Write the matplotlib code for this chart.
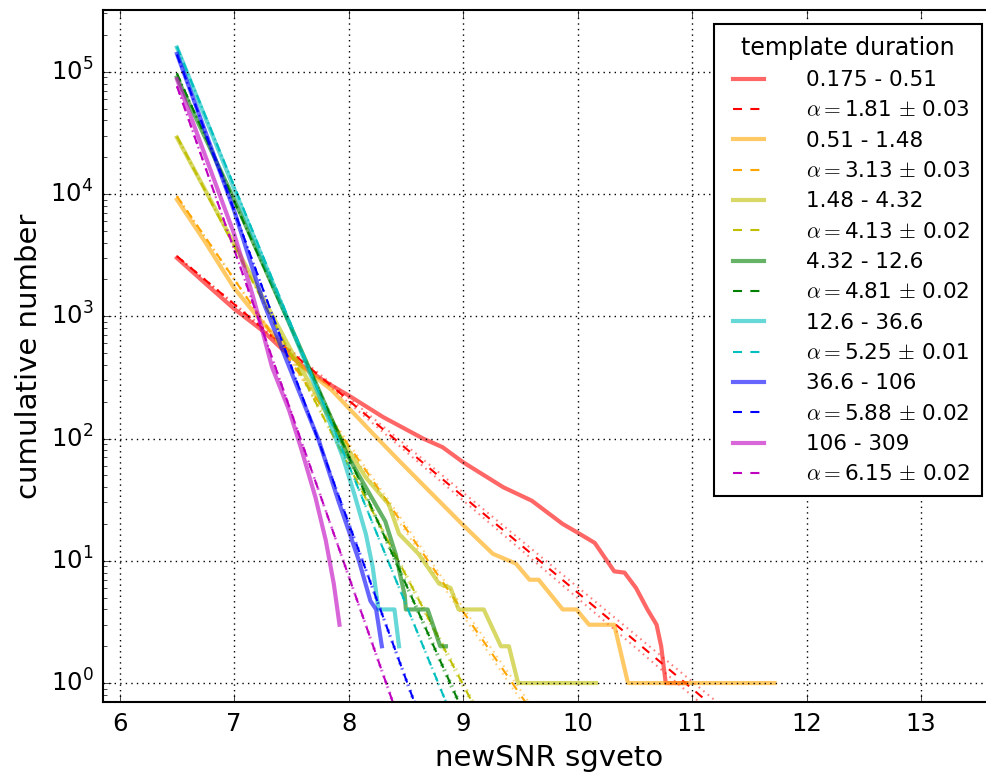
import numpy as np
import matplotlib
matplotlib.use("Agg")
import matplotlib.pyplot as plt

plt.style.use("classic")
plt.rcParams["font.family"] = ["DejaVu Sans"]
plt.rcParams["mathtext.fontset"] = "cm"
plt.rcParams["lines.scale_dashes"] = False

# ---- data ----
bins = ["0.175 - 0.51", "0.51 - 1.48", "1.48 - 4.32", "4.32 - 12.6",
        "12.6 - 36.6", "36.6 - 106", "106 - 309"]
colors = ["r", "orange", "y", "g", "c", "b", "m"]
alpha_fit = [1.81, 3.13, 4.13, 4.81, 5.25, 5.88, 6.15]
alpha_err = [0.03, 0.03, 0.02, 0.02, 0.01, 0.02, 0.02]
fit_norm = [3100, 9600, 29500, 97000, 160000, 138000, 76000]
fit_x0 = 6.5

snr_red = [6.5, 6.75, 7.0, 7.25, 7.4, 7.6, 7.8, 8.0, 8.3, 8.65, 8.82, 9.0, 9.35,
           9.6, 9.87, 10.0, 10.15, 10.32, 10.41, 10.51, 10.61, 10.69, 10.73, 10.77, 10.95]
num_red = [3000, 1850, 1150, 760, 560, 390, 290, 225, 150, 100, 85, 64, 40,
           31, 20, 17, 14, 8.2, 8, 6, 4, 3, 2, 1, 1]

snr_orange = [6.5, 6.75, 7.0, 7.2, 7.4, 7.56, 7.85, 8.24, 8.44, 8.67, 8.99, 9.26,
              9.46, 9.58, 9.66, 9.87, 9.99, 10.10, 10.32, 10.44, 11.72]
num_orange = [9000, 4000, 1700, 1000, 620, 410, 250, 103, 66, 40, 20, 11.4,
              9.5, 7, 7, 4, 4, 3, 3, 1, 1]

snr_yellow = [6.5, 7.0, 7.5, 7.75, 8.0, 8.15, 8.35, 8.44, 8.61, 8.79, 8.89, 8.96,
              9.18, 9.33, 9.40, 9.48, 10.16]
num_yellow = [29000, 3900, 520, 200, 80, 48, 29, 16.6, 11.4, 6.5, 6, 4,
              4, 2, 2, 1, 1]

snr_green = [6.5, 7.0, 7.5, 8.0, 8.2, 8.32, 8.41, 8.49, 8.50, 8.69, 8.80, 8.85]
num_green = [90000, 9000, 800, 70, 33, 21, 11.4, 5.2, 4, 4, 2, 2]

snr_cyan = [6.5, 7.0, 7.5, 7.8, 7.95, 8.05, 8.15, 8.21, 8.26, 8.40, 8.44]
num_cyan = [158000, 11000, 800, 165, 70, 35, 16.6, 8.9, 4, 4, 2]

snr_blue = [6.5, 7.0, 7.25, 7.54, 7.74, 7.91, 8.0, 8.09, 8.19, 8.24, 8.29]
num_blue = [140000, 7300, 1340, 280, 96, 31, 17.7, 10, 4.7, 4, 2]

snr_magenta = [6.5, 7.0, 7.16, 7.24, 7.33, 7.48, 7.59, 7.71, 7.80, 7.87, 7.92]
num_magenta = [87000, 4700, 1500, 800, 385, 170, 80, 33, 14.7, 6.5, 3]

snr_all = [snr_red, snr_orange, snr_yellow, snr_green, snr_cyan, snr_blue, snr_magenta]
num_all = [num_red, num_orange, num_yellow, num_green, num_cyan, num_blue, num_magenta]

x_ticks = [6, 7, 8, 9, 10, 11, 12, 13]

# ---- figure ----
W, H = 987, 774
fig = plt.figure(figsize=(W / 100, H / 100), dpi=100, facecolor="white")
ax = fig.add_axes([103 / W, 1 - 702 / H, (996 - 103) / W, (702 - 10) / H])
ax.set_facecolor("white")

fit_x = np.array([fit_x0, 13.0])
for lab, c, xs, ns, a, e, n0 in zip(bins, colors, snr_all, num_all,
                                     alpha_fit, alpha_err, fit_norm):
    ax.plot(xs, ns, color=c, lw=3, alpha=0.6, label=lab)
    ax.plot(fit_x, n0 * np.exp(-a * (fit_x - fit_x0)), color=c, lw=1.5,
            dashes=(6.5, 6), label=r"$\alpha=$%.2f $\pm$ %.2f" % (a, e))
    for s in (-1, 1):
        ax.plot(fit_x, n0 * np.exp(-(a + s * e) * (fit_x - fit_x0)), color=c,
                lw=1.5, alpha=0.5, dashes=(1.2, 3))

ax.set_yscale("log")
ax.set_xlim(5.854, 13.655)
ax.set_ylim(0.70, 3.2e5)
ax.set_xticks(x_ticks)
ax.set_xticklabels([str(t) for t in x_ticks])
ax.grid(True, which="major", color="k", linestyle=":", linewidth=1.0)
ax.tick_params(labelsize=17.5, direction="in")
ax.tick_params(which="major", length=6, pad=7)
ax.tick_params(which="minor", length=3)
for sp in ax.spines.values():
    sp.set_linewidth(1.5)
ax.set_xlabel("newSNR sgveto", fontsize=21, labelpad=6)
ax.set_ylabel("cumulative number", fontsize=21)

leg = ax.legend(loc="upper right", title="template duration", fontsize=15.5,
                labelspacing=0.48, handletextpad=1.65, borderaxespad=0.65,
                borderpad=0.55, handlelength=2.05, numpoints=2, fancybox=False)
leg.get_title().set_fontsize(17)
leg.get_frame().set_linewidth(1.5)
leg.get_frame().set_edgecolor("k")

fig.savefig("out.png", dpi=100, facecolor="white")
